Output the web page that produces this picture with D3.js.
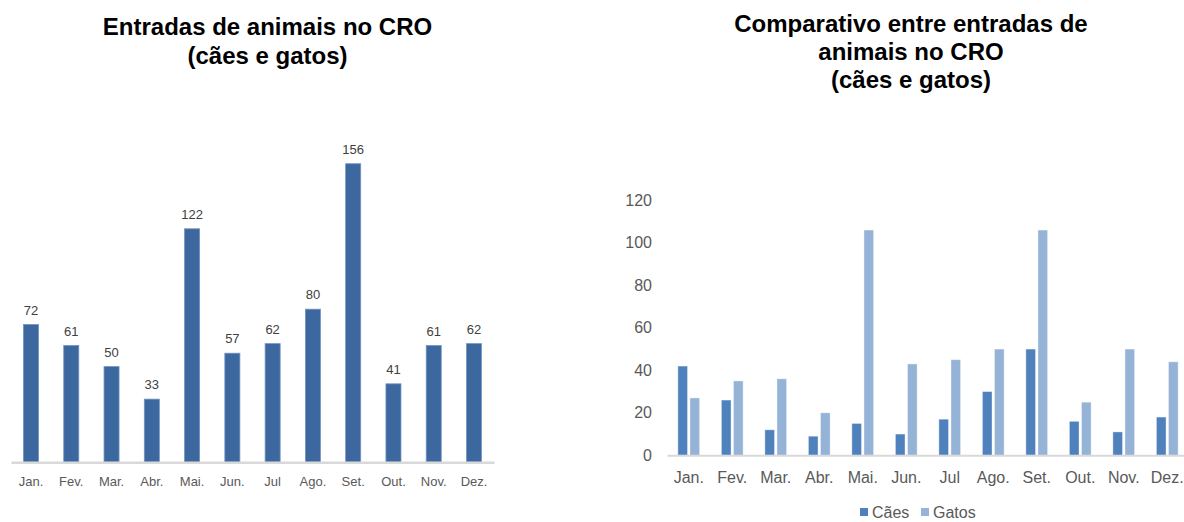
<!DOCTYPE html>
<html>
<head>
<meta charset="utf-8">
<script src="https://cdn.jsdelivr.net/npm/d3@7"></script>
<style>
  html, body { margin: 0; padding: 0; background: #fff; }
  svg { display: block; }
</style>
</head>
<body>
<svg id="chart" width="1184" height="522"></svg>
<script>
// ---- data ----
const months = ["Jan.", "Fev.", "Mar.", "Abr.", "Mai.", "Jun.", "Jul", "Ago.", "Set.", "Out.", "Nov.", "Dez."];
const totals = [72, 61, 50, 33, 122, 57, 62, 80, 156, 41, 61, 62];
const caes = [42, 26, 12, 9, 15, 10, 17, 30, 50, 16, 11, 18];
const gatos = [27, 35, 36, 20, 106, 43, 45, 50, 106, 25, 50, 44];
const seriesNames = ["Cães", "Gatos"];
const yTicksRight = [0, 20, 40, 60, 80, 100, 120];
const leftTitle = ["Entradas de animais no CRO", "(cães e gatos)"];
const rightTitle = ["Comparativo entre entradas de", "animais no CRO", "(cães e gatos)"];

const svg = d3.select("#chart");
const titleFont = "'Liberation Sans', Arial, sans-serif";
const labelFont = "'Liberation Sans', Arial, sans-serif";

// ---- left chart ----
const L = svg.append("g");
L.append("text")
  .attr("x", 267.5).attr("y", 35)
  .attr("text-anchor", "middle")
  .style("font-family", titleFont).style("font-weight", "bold").style("font-size", "24px")
  .attr("fill", "#000")
  .selectAll("tspan").data(leftTitle).join("tspan")
  .attr("x", 267.5).attr("dy", (d, i) => i === 0 ? 0 : 28.5).text(d => d);

const xL = d3.scaleBand().domain(months).range([11, 494]).paddingInner(0.627).paddingOuter(0.31);
const yL = d3.scaleLinear().domain([0, 180]).range([462.3, 117.8]);

L.selectAll("rect.bar").data(totals).join("rect")
  .attr("class", "bar")
  .attr("x", (d, i) => xL(months[i]))
  .attr("width", xL.bandwidth())
  .attr("y", d => yL(d))
  .attr("height", d => yL(0) - yL(d))
  .attr("fill", "#3C689F")
  .attr("stroke", "#6F93C0").attr("stroke-width", 0.8);

L.selectAll("text.val").data(totals).join("text")
  .attr("class", "val")
  .attr("x", (d, i) => xL(months[i]) + xL.bandwidth() / 2)
  .attr("y", d => yL(d) - 10)
  .attr("text-anchor", "middle")
  .style("font-family", labelFont).style("font-size", "13px")
  .attr("fill", "#404040")
  .text(d => d);

const axL = L.append("g").attr("transform", `translate(0,${yL(0)})`)
  .call(d3.axisBottom(xL).tickSize(0).tickPadding(14));
axL.select(".domain").attr("stroke", "#D9D9D9").attr("stroke-width", 2.5);
axL.selectAll("text").style("font-family", labelFont).style("font-size", "13px").attr("fill", "#595959");

// ---- right chart ----
const R = svg.append("g");
R.append("text")
  .attr("x", 911).attr("y", 31.5)
  .attr("text-anchor", "middle")
  .style("font-family", titleFont).style("font-weight", "bold").style("font-size", "24px")
  .attr("fill", "#000")
  .selectAll("tspan").data(rightTitle).join("tspan")
  .attr("x", 911).attr("dy", (d, i) => i === 0 ? 0 : 28).text(d => d);

const xR = d3.scaleBand().domain(months).range([667, 1189]).paddingInner(0.5).paddingOuter(0.25);
const xSub = d3.scaleBand().domain(seriesNames).range([0, xR.bandwidth()]).paddingInner(0.2);
const yR = d3.scaleLinear().domain([0, 120]).range([455.3, 200.3]);
const colors = { "Cães": "#4F81BD", "Gatos": "#95B3D7" };

const seriesData = [caes, gatos];
seriesNames.forEach((name, si) => {
  R.selectAll("rect.s" + si).data(seriesData[si]).join("rect")
    .attr("class", "s" + si)
    .attr("x", (d, i) => xR(months[i]) + xSub(name))
    .attr("width", xSub.bandwidth())
    .attr("y", d => yR(d))
    .attr("height", d => yR(0) - yR(d))
    .attr("fill", colors[name])
    .attr("stroke", "#FFFFFF").attr("stroke-opacity", 0.5).attr("stroke-width", 0.8);
});

const ayR = R.append("g").attr("transform", "translate(652,0)")
  .call(d3.axisLeft(yR).tickValues(yTicksRight).tickSize(0).tickPadding(0));
ayR.select(".domain").remove();
ayR.selectAll("text").style("font-family", labelFont).style("font-size", "16px").attr("fill", "#595959");

const axR = R.append("g").attr("transform", `translate(0,${yR(0)})`)
  .call(d3.axisBottom(xR).tickSize(0).tickPadding(16));
axR.select(".domain").attr("stroke", "#D9D9D9").attr("stroke-width", 2);
axR.selectAll("text").style("font-family", labelFont).style("font-size", "16px").attr("fill", "#595959");

// legend
const legendX = [860, 921];
const lg = R.selectAll("g.lg").data(seriesNames).join("g")
  .attr("class", "lg")
  .attr("transform", (d, i) => `translate(${legendX[i]},512)`);
lg.append("rect").attr("width", 8).attr("height", 8).attr("y", -4).attr("fill", d => colors[d]);
lg.append("text").attr("x", 12).attr("y", 0).attr("dy", "0.35em")
  .style("font-family", labelFont).style("font-size", "16px").attr("fill", "#595959")
  .text(d => d);
</script>
</body>
</html>
